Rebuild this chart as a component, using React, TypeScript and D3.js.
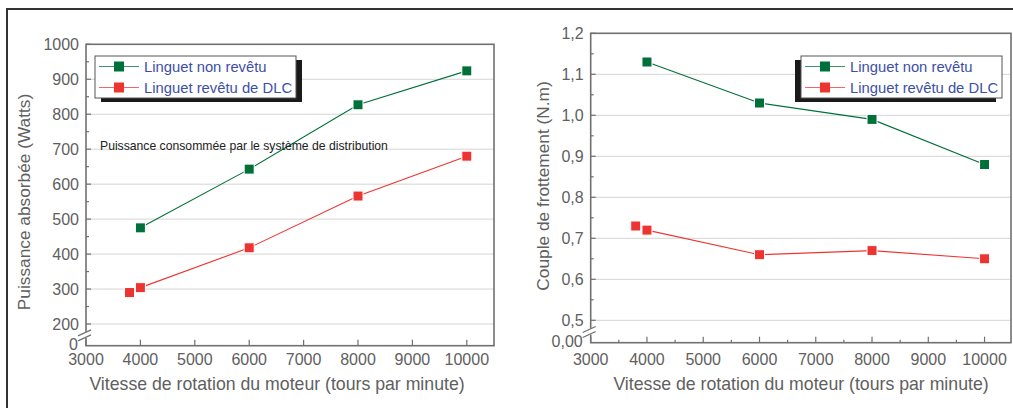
import React from "react";
import * as d3 from "d3";

// speeds (tours par minute)
const rpm = [4000, 6000, 8000, 10000];
const rpmExtra = 3800;

// puissance absorbée (Watts)
const powerUncoated = [475, 643, 827, 924];
const powerDlc = [304, 418, 566, 680];
const powerDlcExtra = 290;

// couple de frottement (N.m)
const torqueUncoated = [1.13, 1.03, 0.99, 0.88];
const torqueDlc = [0.72, 0.66, 0.67, 0.65];
const torqueDlcExtra = 0.73;

const xTicks = [3000, 4000, 5000, 6000, 7000, 8000, 9000, 10000];
const powerTicks = [200, 300, 400, 500, 600, 700, 800, 900, 1000];
const torqueTicks = [0.5, 0.6, 0.7, 0.8, 0.9, 1.0, 1.1, 1.2];

const seriesNames = ["Linguet non revêtu", "Linguet revêtu de DLC"];

const GREEN = "#00703a";
const RED = "#ee3431";
const AXIS = "#707070";
const LABEL = "#606060";
const FONT = "'Liberation Sans', Arial, sans-serif";

type Pt = { x: number; y: number };

interface PanelProps {
  x: d3.ScaleLinear<number, number>;
  y: d3.ScaleLinear<number, number>;
  yTicks: number[];
  yMinor: number[];
  xMinor: number[];
  yFmt: (v: number) => string;
  zeroLabel: string;
  green: Pt[];
  red: Pt[];
  redExtra: Pt;
  yTitle: string;
  yTitlePos: [number, number];
  xTitleX: number;
  legend: { x: number; y: number; shadowDx: number };
}

const Square: React.FC<{ cx: number; cy: number; fill: string }> = ({ cx, cy, fill }) => (
  <rect x={cx - 5} y={cy - 5} width={10} height={10} fill={fill} stroke="#fff" strokeWidth={1} />
);

const Panel: React.FC<PanelProps> = (p) => {
  const [x0, x1] = p.x.range();
  const yBottom = p.y(0);
  const yTop = p.y(p.yTicks[p.yTicks.length - 1]);
  const yLow = p.y(p.yTicks[0]);
  const line = d3
    .line<Pt>()
    .x((d) => p.x(d.x))
    .y((d) => p.y(d.y));
  const breakY = (yLow + yBottom) / 2;
  const lw = 201;
  const lh = 42;
  return (
    <g fontFamily={FONT}>
      {/* grid */}
      {p.yTicks.slice(0, -1).map((t) => (
        <line key={t} x1={x0} x2={x1} y1={p.y(t)} y2={p.y(t)} stroke="#d4d4d4" strokeWidth={1} />
      ))}
      {/* frame */}
      <rect x={x0} y={yTop} width={x1 - x0} height={yBottom - yTop} fill="none" stroke={AXIS} strokeWidth={1.6} />
      {/* y ticks */}
      {p.yTicks.map((t) => (
        <line key={"ym" + t} x1={x0} x2={x0 + 5} y1={p.y(t)} y2={p.y(t)} stroke={AXIS} strokeWidth={1.2} />
      ))}
      {p.yMinor.map((t) => (
        <line key={"yn" + t} x1={x0} x2={x0 + 3} y1={p.y(t)} y2={p.y(t)} stroke={AXIS} strokeWidth={1.2} />
      ))}
      {/* x ticks */}
      {xTicks.map((t) => (
        <line key={"xm" + t} x1={p.x(t)} x2={p.x(t)} y1={yBottom} y2={yBottom - 6} stroke={AXIS} strokeWidth={1.2} />
      ))}
      {p.xMinor.map((t) => (
        <line key={"xn" + t} x1={p.x(t)} x2={p.x(t)} y1={yBottom} y2={yBottom - 3} stroke={AXIS} strokeWidth={1.2} />
      ))}
      {/* axis break */}
      <rect x={x0 - 2} y={breakY - 3} width={4} height={6} fill="#fff" />
      <line x1={x0 - 8} x2={x0 + 5} y1={breakY + 1} y2={breakY - 5} stroke={AXIS} strokeWidth={1.2} />
      <line x1={x0 - 8} x2={x0 + 5} y1={breakY + 6} y2={breakY} stroke={AXIS} strokeWidth={1.2} />
      {/* y labels */}
      {p.yTicks.map((t) => (
        <text key={"yl" + t} x={x0 - 7} y={p.y(t)} dy="0.35em" textAnchor="end" fontSize={16} fill={LABEL}>
          {p.yFmt(t)}
        </text>
      ))}
      <text x={x0 - 8} y={yBottom - 1} dy="0.3em" textAnchor="end" fontSize={16} fill={LABEL}>
        {p.zeroLabel}
      </text>
      {/* x labels */}
      {xTicks.map((t) => (
        <text key={"xl" + t} x={p.x(t)} y={365} textAnchor="middle" fontSize={16} fill={LABEL}>
          {t}
        </text>
      ))}
      {/* titles */}
      <text
        transform={`translate(${p.yTitlePos[0]},${p.yTitlePos[1]}) rotate(-90)`}
        textAnchor="middle"
        fontSize={17.3}
        fill={LABEL}
      >
        {p.yTitle}
      </text>
      <text x={p.xTitleX} y={390} textAnchor="middle" fontSize={17.7} fill={LABEL}>
        Vitesse de rotation du moteur (tours par minute)
      </text>
      {/* series */}
      <path d={line(p.green) ?? ""} fill="none" stroke={GREEN} strokeWidth={1.1} />
      <path d={line(p.red) ?? ""} fill="none" stroke={RED} strokeWidth={1.1} />
      {p.green.map((d, i) => (
        <Square key={"g" + i} cx={p.x(d.x)} cy={p.y(d.y)} fill={GREEN} />
      ))}
      {[p.redExtra, ...p.red].map((d, i) => (
        <Square key={"r" + i} cx={p.x(d.x)} cy={p.y(d.y)} fill={RED} />
      ))}
      {/* legend */}
      <rect x={p.legend.x + p.legend.shadowDx} y={p.legend.y + 4} width={lw} height={lh} fill="#1a1a1a" />
      <rect x={p.legend.x} y={p.legend.y} width={lw} height={lh} fill="#fff" stroke="#555" strokeWidth={1} />
      {seriesNames.map((n, i) => {
        const cy = p.legend.y + 10.5 + i * 21;
        const c = i === 0 ? GREEN : RED;
        return (
          <g key={n}>
            <line x1={p.legend.x + 4} x2={p.legend.x + 44} y1={cy} y2={cy} stroke={c} strokeOpacity={0.75} strokeWidth={1.1} />
            <rect x={p.legend.x + 19} y={cy - 5} width={10} height={10} fill={c} />
            <text x={p.legend.x + 49} y={cy} dy="0.36em" fontSize={14.8} fill="#3d4fa5">
              {n}
            </text>
          </g>
        );
      })}
    </g>
  );
};

const App: React.FC = () => {
  const xLeft = d3.scaleLinear().domain([3000, 10500]).range([86, 494]);
  const yLeft = d3.scaleLinear().domain([0, 200, 1000]).range([345.7, 324, 44.3]);
  const xRight = d3.scaleLinear().domain([3000, 10470]).range([590.7, 1011]);
  const yRight = d3.scaleLinear().domain([0, 0.5, 1.2]).range([342.7, 320.3, 33.3]);

  const comma = (v: number) => v.toFixed(1).replace(".", ",");

  return (
    <div style={{ position: "absolute", left: 0, top: 0 }}>
      <svg width={1013} height={408} style={{ display: "block", background: "#fff" }}>
        <rect x={7} y={9} width={1020} height={420} fill="none" stroke="#333" strokeWidth={2} />
        <Panel
          x={xLeft}
          y={yLeft}
          yTicks={powerTicks}
          yMinor={d3.range(250, 1000, 100)}
          xMinor={[]}
          yFmt={(v) => String(v)}
          zeroLabel="0"
          green={rpm.map((r, i) => ({ x: r, y: powerUncoated[i] }))}
          red={rpm.map((r, i) => ({ x: r, y: powerDlc[i] }))}
          redExtra={{ x: rpmExtra, y: powerDlcExtra }}
          yTitle="Puissance absorbée (Watts)"
          yTitlePos={[30, 202]}
          xTitleX={277}
          legend={{ x: 95, y: 56, shadowDx: 6 }}
        />
        <Panel
          x={xRight}
          y={yRight}
          yTicks={torqueTicks}
          yMinor={d3.range(0.55, 1.2, 0.1)}
          xMinor={d3.range(3500, 10500, 1000)}
          yFmt={comma}
          zeroLabel="0,00"
          green={rpm.map((r, i) => ({ x: r, y: torqueUncoated[i] }))}
          red={rpm.map((r, i) => ({ x: r, y: torqueDlc[i] }))}
          redExtra={{ x: rpmExtra, y: torqueDlcExtra }}
          yTitle="Couple de frottement (N.m)"
          yTitlePos={[549, 186]}
          xTitleX={801}
          legend={{ x: 801, y: 56, shadowDx: -6 }}
        />
        <text x={100} y={150} fontFamily={FONT} fontSize={12.2} fill="#222">
          Puissance consommée par le système de distribution
        </text>
      </svg>
    </div>
  );
};

export default App;
